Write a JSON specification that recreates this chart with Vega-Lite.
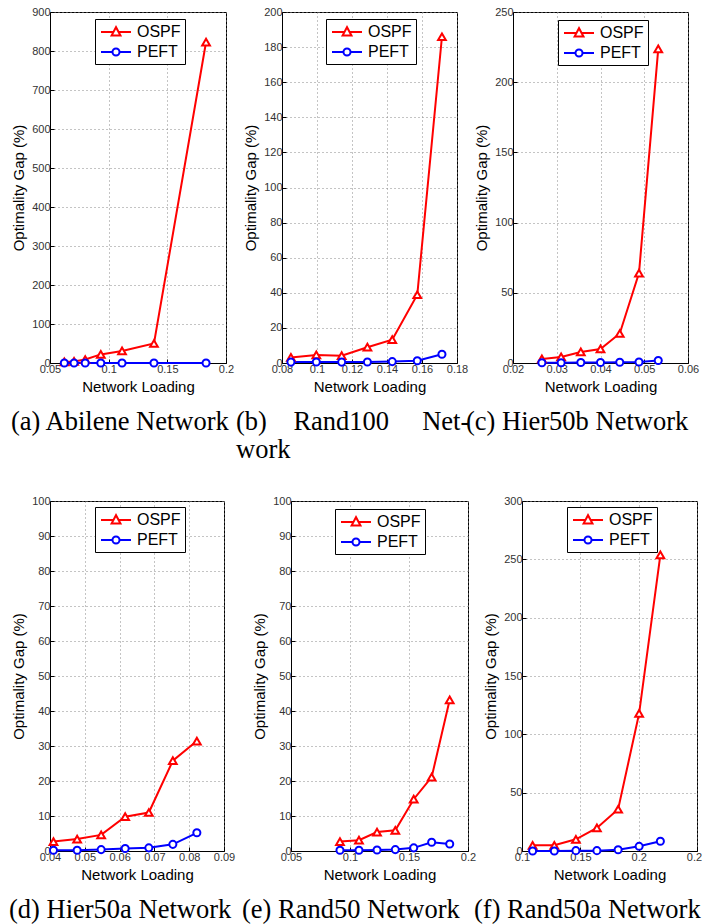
{
  "$schema": "https://vega.github.io/schema/vega-lite/v6.json",
  "padding": {"left": 8, "top": 5, "right": 0, "bottom": 0},
  "background": "white",
  "datasets": {
    "a": [
      {"x": 0.0622, "gap": 3, "s": "OSPF"}, {"x": 0.0705, "gap": 4, "s": "OSPF"}, {"x": 0.08, "gap": 9, "s": "OSPF"}, {"x": 0.0933, "gap": 22, "s": "OSPF"}, {"x": 0.1114, "gap": 31, "s": "OSPF"}, {"x": 0.1386, "gap": 50, "s": "OSPF"}, {"x": 0.183, "gap": 823, "s": "OSPF"},
      {"x": 0.0622, "gap": 0, "s": "PEFT"}, {"x": 0.0705, "gap": 0, "s": "PEFT"}, {"x": 0.08, "gap": 0, "s": "PEFT"}, {"x": 0.0933, "gap": 0, "s": "PEFT"}, {"x": 0.1114, "gap": 0, "s": "PEFT"}, {"x": 0.1386, "gap": 0, "s": "PEFT"}, {"x": 0.183, "gap": 0, "s": "PEFT"}
    ],
    "b": [
      {"x": 0.0851, "gap": 3.2, "s": "OSPF"}, {"x": 0.0996, "gap": 4.6, "s": "OSPF"}, {"x": 0.1141, "gap": 4.2, "s": "OSPF"}, {"x": 0.1288, "gap": 9, "s": "OSPF"}, {"x": 0.143, "gap": 13.3, "s": "OSPF"}, {"x": 0.1573, "gap": 38.9, "s": "OSPF"}, {"x": 0.1714, "gap": 185.9, "s": "OSPF"},
      {"x": 0.0851, "gap": 0.5, "s": "PEFT"}, {"x": 0.0996, "gap": 0.6, "s": "PEFT"}, {"x": 0.1141, "gap": 0.5, "s": "PEFT"}, {"x": 0.1288, "gap": 0.6, "s": "PEFT"}, {"x": 0.143, "gap": 0.8, "s": "PEFT"}, {"x": 0.1573, "gap": 1.3, "s": "PEFT"}, {"x": 0.1714, "gap": 5, "s": "PEFT"}
    ],
    "c": [
      {"x": 0.0266, "gap": 2.9, "s": "OSPF"}, {"x": 0.031, "gap": 4.3, "s": "OSPF"}, {"x": 0.0355, "gap": 7.9, "s": "OSPF"}, {"x": 0.04, "gap": 10, "s": "OSPF"}, {"x": 0.0444, "gap": 21, "s": "OSPF"}, {"x": 0.0488, "gap": 64, "s": "OSPF"}, {"x": 0.0532, "gap": 223.7, "s": "OSPF"},
      {"x": 0.0266, "gap": 0.2, "s": "PEFT"}, {"x": 0.031, "gap": 0.2, "s": "PEFT"}, {"x": 0.0355, "gap": 0.3, "s": "PEFT"}, {"x": 0.04, "gap": 0.4, "s": "PEFT"}, {"x": 0.0444, "gap": 0.5, "s": "PEFT"}, {"x": 0.0488, "gap": 0.7, "s": "PEFT"}, {"x": 0.0532, "gap": 1.8, "s": "PEFT"}
    ],
    "d": [
      {"x": 0.041, "gap": 2.7, "s": "OSPF"}, {"x": 0.0478, "gap": 3.4, "s": "OSPF"}, {"x": 0.0547, "gap": 4.6, "s": "OSPF"}, {"x": 0.0616, "gap": 9.8, "s": "OSPF"}, {"x": 0.0684, "gap": 11, "s": "OSPF"}, {"x": 0.0753, "gap": 25.8, "s": "OSPF"}, {"x": 0.0822, "gap": 31.4, "s": "OSPF"},
      {"x": 0.041, "gap": 0.2, "s": "PEFT"}, {"x": 0.0478, "gap": 0.2, "s": "PEFT"}, {"x": 0.0547, "gap": 0.4, "s": "PEFT"}, {"x": 0.0616, "gap": 0.7, "s": "PEFT"}, {"x": 0.0684, "gap": 0.9, "s": "PEFT"}, {"x": 0.0753, "gap": 1.9, "s": "PEFT"}, {"x": 0.0822, "gap": 5.2, "s": "PEFT"}
    ],
    "e": [
      {"x": 0.0915, "gap": 2.7, "s": "OSPF"}, {"x": 0.1076, "gap": 3.1, "s": "OSPF"}, {"x": 0.1229, "gap": 5.4, "s": "OSPF"}, {"x": 0.1384, "gap": 5.9, "s": "OSPF"}, {"x": 0.154, "gap": 14.8, "s": "OSPF"}, {"x": 0.1692, "gap": 21.1, "s": "OSPF"}, {"x": 0.1845, "gap": 43.2, "s": "OSPF"},
      {"x": 0.0915, "gap": 0.2, "s": "PEFT"}, {"x": 0.1076, "gap": 0.2, "s": "PEFT"}, {"x": 0.1229, "gap": 0.3, "s": "PEFT"}, {"x": 0.1384, "gap": 0.4, "s": "PEFT"}, {"x": 0.154, "gap": 0.9, "s": "PEFT"}, {"x": 0.1692, "gap": 2.5, "s": "PEFT"}, {"x": 0.1845, "gap": 2.0, "s": "PEFT"}
    ],
    "f": [
      {"x": 0.1091, "gap": 4.9, "s": "OSPF"}, {"x": 0.1277, "gap": 4.9, "s": "OSPF"}, {"x": 0.1462, "gap": 10, "s": "OSPF"}, {"x": 0.1642, "gap": 19.8, "s": "OSPF"}, {"x": 0.1824, "gap": 35.8, "s": "OSPF"}, {"x": 0.2004, "gap": 117.9, "s": "OSPF"}, {"x": 0.2186, "gap": 253.8, "s": "OSPF"},
      {"x": 0.1091, "gap": 0, "s": "PEFT"}, {"x": 0.1277, "gap": 0, "s": "PEFT"}, {"x": 0.1462, "gap": 0.3, "s": "PEFT"}, {"x": 0.1642, "gap": 0.3, "s": "PEFT"}, {"x": 0.1824, "gap": 1.1, "s": "PEFT"}, {"x": 0.2004, "gap": 4, "s": "PEFT"}, {"x": 0.2186, "gap": 8.3, "s": "PEFT"}
    ]
  },
  "resolve": {"scale": {"color": "independent"}, "legend": {"color": "independent"}},
  "spacing": 30,
  "vconcat": [
    {
      "bounds": "flush",
      "spacing": 56,
      "resolve": {"scale": {"color": "independent"}, "legend": {"color": "independent"}},
      "hconcat": [
        {
          "width": 176, "height": 351,
          "data": {"name": "a"},
          "title": {"text": "(a) Abilene Network", "dx": -39},
          "encoding": {
            "x": {"field": "x", "type": "quantitative", "scale": {"domain": [0.05, 0.2], "nice": false, "zero": false}, "axis": {"values": [0.05, 0.1, 0.15, 0.2], "format": "~g", "title": "Network Loading"}},
            "y": {"field": "gap", "type": "quantitative", "scale": {"domain": [0, 900], "nice": false}, "axis": {"values": [0, 100, 200, 300, 400, 500, 600, 700, 800, 900], "title": "Optimality Gap (%)"}},
            "color": {"field": "s", "type": "nominal", "scale": {"domain": ["OSPF", "PEFT"], "range": ["#ff0000", "#0000ff"]},
              "legend": {"orient": "none", "legendX": 45, "legendY": 7, "title": null,
                "encode": {"symbols": {"update": {"shape": [{"test": "datum.value === 'OSPF'", "value": "M-1.875,0L-0.35,0M0.35,0L1.875,0M-0.56,0.45L0,-0.6L0.56,0.45Z"}, {"value": "M-1.875,0L-0.44,0M0.44,0L1.875,0M-0.44,0A0.44,0.44,0,1,0,0.44,0A0.44,0.44,0,1,0,-0.44,0Z"}], "fill": {"value": "white"}, "fillOpacity": {"value": 1}, "opacity": {"value": 1}, "strokeWidth": {"value": 2}}}}}}
          },
          "layer": [
            {"mark": {"type": "line", "strokeWidth": 2}},
            {"transform": [{"filter": "datum.s === 'OSPF'"}], "mark": {"type": "point", "shape": "triangle-up", "filled": false, "fill": "white", "fillOpacity": 1, "opacity": 1, "strokeWidth": 2, "size": 60}},
            {"transform": [{"filter": "datum.s === 'PEFT'"}], "mark": {"type": "point", "shape": "circle", "filled": false, "fill": "white", "fillOpacity": 1, "opacity": 1, "strokeWidth": 2, "size": 50}}
          ]
        },
        {
          "width": 175, "height": 351,
          "data": {"name": "b"},
          "title": {"text": ["(b)\u00a0\u00a0\u00a0 Rand100\u00a0\u00a0\u00a0\u00a0 Net-", "work"], "dx": -46},
          "encoding": {
            "x": {"field": "x", "type": "quantitative", "scale": {"domain": [0.08, 0.18], "nice": false, "zero": false}, "axis": {"values": [0.08, 0.1, 0.12, 0.14, 0.16, 0.18], "format": "~g", "title": "Network Loading"}},
            "y": {"field": "gap", "type": "quantitative", "scale": {"domain": [0, 200], "nice": false}, "axis": {"values": [0, 20, 40, 60, 80, 100, 120, 140, 160, 180, 200], "title": "Optimality Gap (%)"}},
            "color": {"field": "s", "type": "nominal", "scale": {"domain": ["OSPF", "PEFT"], "range": ["#ff0000", "#0000ff"]},
              "legend": {"orient": "none", "legendX": 44, "legendY": 7, "title": null,
                "encode": {"symbols": {"update": {"shape": [{"test": "datum.value === 'OSPF'", "value": "M-1.875,0L-0.35,0M0.35,0L1.875,0M-0.56,0.45L0,-0.6L0.56,0.45Z"}, {"value": "M-1.875,0L-0.44,0M0.44,0L1.875,0M-0.44,0A0.44,0.44,0,1,0,0.44,0A0.44,0.44,0,1,0,-0.44,0Z"}], "fill": {"value": "white"}, "fillOpacity": {"value": 1}, "opacity": {"value": 1}, "strokeWidth": {"value": 2}}}}}}
          },
          "layer": [
            {"mark": {"type": "line", "strokeWidth": 2}},
            {"transform": [{"filter": "datum.s === 'OSPF'"}], "mark": {"type": "point", "shape": "triangle-up", "filled": false, "fill": "white", "fillOpacity": 1, "opacity": 1, "strokeWidth": 2, "size": 60}},
            {"transform": [{"filter": "datum.s === 'PEFT'"}], "mark": {"type": "point", "shape": "circle", "filled": false, "fill": "white", "fillOpacity": 1, "opacity": 1, "strokeWidth": 2, "size": 50}}
          ]
        },
        {
          "width": 175, "height": 351,
          "data": {"name": "c"},
          "title": {"text": "(c) Hier50b Network", "dx": -47},
          "encoding": {
            "x": {"field": "x", "type": "quantitative", "scale": {"domain": [0.02, 0.06], "nice": false, "zero": false}, "axis": {"values": [0.02, 0.03, 0.04, 0.05, 0.06], "format": "~g", "title": "Network Loading"}},
            "y": {"field": "gap", "type": "quantitative", "scale": {"domain": [0, 250], "nice": false}, "axis": {"values": [0, 50, 100, 150, 200, 250], "title": "Optimality Gap (%)"}},
            "color": {"field": "s", "type": "nominal", "scale": {"domain": ["OSPF", "PEFT"], "range": ["#ff0000", "#0000ff"]},
              "legend": {"orient": "none", "legendX": 45, "legendY": 8, "title": null,
                "encode": {"symbols": {"update": {"shape": [{"test": "datum.value === 'OSPF'", "value": "M-1.875,0L-0.35,0M0.35,0L1.875,0M-0.56,0.45L0,-0.6L0.56,0.45Z"}, {"value": "M-1.875,0L-0.44,0M0.44,0L1.875,0M-0.44,0A0.44,0.44,0,1,0,0.44,0A0.44,0.44,0,1,0,-0.44,0Z"}], "fill": {"value": "white"}, "fillOpacity": {"value": 1}, "opacity": {"value": 1}, "strokeWidth": {"value": 2}}}}}}
          },
          "layer": [
            {"mark": {"type": "line", "strokeWidth": 2}},
            {"transform": [{"filter": "datum.s === 'OSPF'"}], "mark": {"type": "point", "shape": "triangle-up", "filled": false, "fill": "white", "fillOpacity": 1, "opacity": 1, "strokeWidth": 2, "size": 60}},
            {"transform": [{"filter": "datum.s === 'PEFT'"}], "mark": {"type": "point", "shape": "circle", "filled": false, "fill": "white", "fillOpacity": 1, "opacity": 1, "strokeWidth": 2, "size": 50}}
          ]
        }
      ]
    },
    {
      "bounds": "flush",
      "spacing": 67,
      "resolve": {"scale": {"color": "independent"}, "legend": {"color": "independent"}},
      "hconcat": [
        {
          "width": 174, "height": 350,
          "data": {"name": "d"},
          "title": {"text": "(d) Hier50a Network", "dx": -41},
          "encoding": {
            "x": {"field": "x", "type": "quantitative", "scale": {"domain": [0.04, 0.09], "nice": false, "zero": false}, "axis": {"values": [0.04, 0.05, 0.06, 0.07, 0.08, 0.09], "format": "~g", "title": "Network Loading"}},
            "y": {"field": "gap", "type": "quantitative", "scale": {"domain": [0, 100], "nice": false}, "axis": {"values": [0, 10, 20, 30, 40, 50, 60, 70, 80, 90, 100], "title": "Optimality Gap (%)"}},
            "color": {"field": "s", "type": "nominal", "scale": {"domain": ["OSPF", "PEFT"], "range": ["#ff0000", "#0000ff"]},
              "legend": {"orient": "none", "legendX": 45, "legendY": 6, "title": null,
                "encode": {"symbols": {"update": {"shape": [{"test": "datum.value === 'OSPF'", "value": "M-1.875,0L-0.35,0M0.35,0L1.875,0M-0.56,0.45L0,-0.6L0.56,0.45Z"}, {"value": "M-1.875,0L-0.44,0M0.44,0L1.875,0M-0.44,0A0.44,0.44,0,1,0,0.44,0A0.44,0.44,0,1,0,-0.44,0Z"}], "fill": {"value": "white"}, "fillOpacity": {"value": 1}, "opacity": {"value": 1}, "strokeWidth": {"value": 2}}}}}}
          },
          "layer": [
            {"mark": {"type": "line", "strokeWidth": 2}},
            {"transform": [{"filter": "datum.s === 'OSPF'"}], "mark": {"type": "point", "shape": "triangle-up", "filled": false, "fill": "white", "fillOpacity": 1, "opacity": 1, "strokeWidth": 2, "size": 60}},
            {"transform": [{"filter": "datum.s === 'PEFT'"}], "mark": {"type": "point", "shape": "circle", "filled": false, "fill": "white", "fillOpacity": 1, "opacity": 1, "strokeWidth": 2, "size": 50}}
          ]
        },
        {
          "bounds": "flush",
          "spacing": 54,
          "resolve": {"scale": {"color": "independent"}, "legend": {"color": "independent"}},
          "hconcat": [
            {
              "width": 177, "height": 350,
              "data": {"name": "e"},
              "title": {"text": "(e) Rand50 Network", "dx": -49},
              "encoding": {
                "x": {"field": "x", "type": "quantitative", "scale": {"domain": [0.05, 0.2], "nice": false, "zero": false}, "axis": {"values": [0.05, 0.1, 0.15, 0.2], "format": "~g", "title": "Network Loading"}},
                "y": {"field": "gap", "type": "quantitative", "scale": {"domain": [0, 100], "nice": false}, "axis": {"values": [0, 10, 20, 30, 40, 50, 60, 70, 80, 90, 100], "title": "Optimality Gap (%)"}},
                "color": {"field": "s", "type": "nominal", "scale": {"domain": ["OSPF", "PEFT"], "range": ["#ff0000", "#0000ff"]},
                  "legend": {"orient": "none", "legendX": 44, "legendY": 8, "title": null,
                    "encode": {"symbols": {"update": {"shape": [{"test": "datum.value === 'OSPF'", "value": "M-1.875,0L-0.35,0M0.35,0L1.875,0M-0.56,0.45L0,-0.6L0.56,0.45Z"}, {"value": "M-1.875,0L-0.44,0M0.44,0L1.875,0M-0.44,0A0.44,0.44,0,1,0,0.44,0A0.44,0.44,0,1,0,-0.44,0Z"}], "fill": {"value": "white"}, "fillOpacity": {"value": 1}, "opacity": {"value": 1}, "strokeWidth": {"value": 2}}}}}}
              },
              "layer": [
                {"mark": {"type": "line", "strokeWidth": 2}},
                {"transform": [{"filter": "datum.s === 'OSPF'"}], "mark": {"type": "point", "shape": "triangle-up", "filled": false, "fill": "white", "fillOpacity": 1, "opacity": 1, "strokeWidth": 2, "size": 60}},
                {"transform": [{"filter": "datum.s === 'PEFT'"}], "mark": {"type": "point", "shape": "circle", "filled": false, "fill": "white", "fillOpacity": 1, "opacity": 1, "strokeWidth": 2, "size": 50}}
              ]
            },
            {
              "width": 175, "height": 350,
              "data": {"name": "f"},
              "title": {"text": "(f) Rand50a Network", "dx": -48},
              "encoding": {
                "x": {"field": "x", "type": "quantitative", "scale": {"domain": [0.1, 0.25], "nice": false, "zero": false}, "axis": {"values": [0.1, 0.15, 0.2, 0.25], "format": "~g", "title": "Network Loading"}},
                "y": {"field": "gap", "type": "quantitative", "scale": {"domain": [0, 300], "nice": false}, "axis": {"values": [0, 50, 100, 150, 200, 250, 300], "title": "Optimality Gap (%)"}},
                "color": {"field": "s", "type": "nominal", "scale": {"domain": ["OSPF", "PEFT"], "range": ["#ff0000", "#0000ff"]},
                  "legend": {"orient": "none", "legendX": 45, "legendY": 6, "title": null,
                    "encode": {"symbols": {"update": {"shape": [{"test": "datum.value === 'OSPF'", "value": "M-1.875,0L-0.35,0M0.35,0L1.875,0M-0.56,0.45L0,-0.6L0.56,0.45Z"}, {"value": "M-1.875,0L-0.44,0M0.44,0L1.875,0M-0.44,0A0.44,0.44,0,1,0,0.44,0A0.44,0.44,0,1,0,-0.44,0Z"}], "fill": {"value": "white"}, "fillOpacity": {"value": 1}, "opacity": {"value": 1}, "strokeWidth": {"value": 2}}}}}}
              },
              "layer": [
                {"mark": {"type": "line", "strokeWidth": 2}},
                {"transform": [{"filter": "datum.s === 'OSPF'"}], "mark": {"type": "point", "shape": "triangle-up", "filled": false, "fill": "white", "fillOpacity": 1, "opacity": 1, "strokeWidth": 2, "size": 60}},
                {"transform": [{"filter": "datum.s === 'PEFT'"}], "mark": {"type": "point", "shape": "circle", "filled": false, "fill": "white", "fillOpacity": 1, "opacity": 1, "strokeWidth": 2, "size": 50}}
              ]
            }
          ]
        }
      ]
    }
  ],
  "config": {
    "view": {"stroke": "black", "strokeWidth": 1},
    "axis": {
      "labelFont": "Liberation Sans", "labelFontSize": 11, "labelColor": "#333",
      "titleFont": "Liberation Sans", "titleFontSize": 15, "titleFontWeight": "normal", "titleColor": "black",
      "domainColor": "black", "domainWidth": 1, "tickColor": "black", "tickSize": -4, "labelPadding": 4, "titlePadding": 5,
      "grid": true, "gridColor": "#888", "gridDash": [1, 3], "gridOpacity": 1, "gridWidth": 1,
      "labelOverlap": false, "labelFlush": false, "labelBound": false
    },
    "legend": {
      "strokeColor": "black", "fillColor": "white", "padding": 4, "cornerRadius": 0,
      "labelFont": "Liberation Sans", "labelFontSize": 16, "labelColor": "black",
      "symbolSize": 256, "symbolStrokeWidth": 2, "rowPadding": 3, "symbolOffset": 8, "labelOffset": 12
    },
    "title": {
      "orient": "bottom", "anchor": "start", "frame": "group", "font": "Liberation Serif", "fontSize": 26.5,
      "fontWeight": "normal", "color": "black", "offset": 15, "lineHeight": 28
    }
  }
}
